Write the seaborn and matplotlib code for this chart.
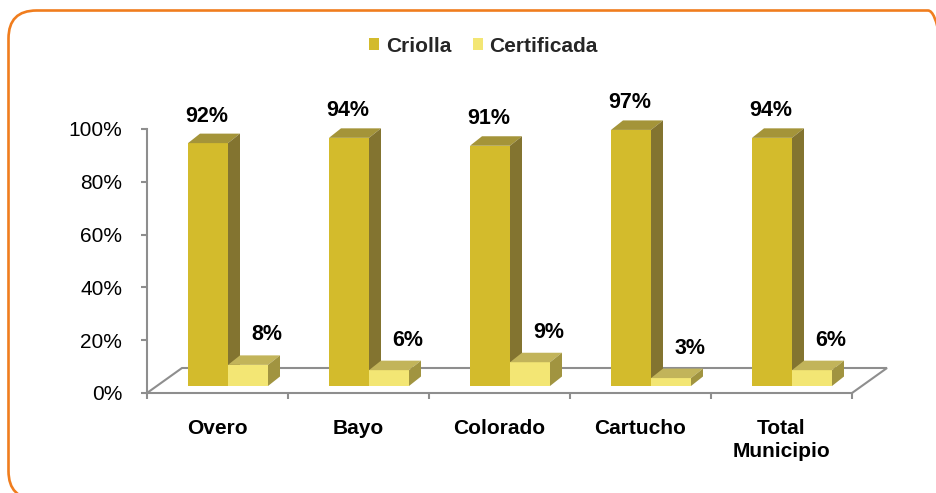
import matplotlib
matplotlib.use("Agg")
import matplotlib.pyplot as plt
from matplotlib.patches import Polygon, FancyBboxPatch
import numpy as np
import pandas as pd
import seaborn as sns

# ---------------- data ----------------
categories = ["Overo", "Bayo", "Colorado", "Cartucho", "Total\nMunicipio"]
series = ["Criolla", "Certificada"]
criolla = [92, 94, 91, 97, 94]
certificada = [8, 6, 9, 3, 6]
ytick_values = [0, 20, 40, 60, 80, 100]
ytick_labels = ["0%", "20%", "40%", "60%", "80%", "100%"]

# ---------------- style ----------------
sns.set_style("white")
plt.rcParams["font.family"] = ["Liberation Sans", "DejaVu Sans"]

front_colors = ["#D3BB2C", "#F3E674"]
top_colors = ["#A49439", "#C2B45A"]
side_colors = ["#837430", "#A19440"]
axis_gray = "#8E8E8E"
border_orange = "#F07D1E"

df = pd.DataFrame({
    "cat": categories * 2,
    "serie": [series[0]] * len(categories) + [series[1]] * len(categories),
    "val": criolla + certificada,
})

W, H = 936, 493
fig = plt.figure(figsize=(W / 100, H / 100), dpi=100)

# pixel geometry of the (pseudo 3D) plot area
PX_CAT = 141.0      # pixels per category
PX_PCT = 2.64       # pixels per percent
X0 = 228.0          # pixel x of first bar pair centre
Y0 = 386.0          # pixel y of bar base
L, R, T, B = 147, 905, 80, 415
ax = fig.add_axes([L / W, 1 - B / H, (R - L) / W, (B - T) / H])

sns.barplot(data=df, x="cat", y="val", hue="serie", order=categories,
            hue_order=series, palette=front_colors, saturation=1,
            width=80 / PX_CAT, linewidth=0, ax=ax)

ax.set_xlim((L - X0) / PX_CAT, (R - X0) / PX_CAT)
ax.set_ylim(-(B - Y0) / PX_PCT, (Y0 - T) / PX_PCT)

# depth offsets (data units)
bdx, bdy = 12 / PX_CAT, 9.5 / PX_PCT
floor_y = -(393 - Y0) / PX_PCT
fdx, fdy = 35 / PX_CAT, 25 / PX_PCT
fx0 = (147 - X0) / PX_CAT
fx1 = (852 - X0) / PX_CAT

# floor outline (behind bars)
ax.plot([fx0, fx0 + fdx, fx1 + fdx, fx1],
        [floor_y, floor_y + fdy, floor_y + fdy, floor_y],
        color=axis_gray, lw=1.5, zorder=0.5, solid_joinstyle="miter")

# 3D faces + labels
label_off = [(-1.5, 7), (19, 10)]
for s, cont in enumerate(ax.containers):
    for p in cont.patches:
        x0, w, h = p.get_x(), p.get_width(), p.get_height()
        zb = 1 + s
        p.set_zorder(zb)
        top = Polygon([(x0, h), (x0 + w, h), (x0 + w + bdx, h + bdy), (x0 + bdx, h + bdy)],
                      closed=True, facecolor=top_colors[s], edgecolor="none", zorder=zb + 0.2)
        side = Polygon([(x0 + w, 0), (x0 + w + bdx, bdy), (x0 + w + bdx, h + bdy), (x0 + w, h)],
                       closed=True, facecolor=side_colors[s], edgecolor="none", zorder=zb + 0.2)
        ax.add_patch(top)
        ax.add_patch(side)
        ax.annotate(f"{h:.0f}%", (x0 + w / 2, h + bdy), xytext=label_off[s],
                    textcoords="offset pixels", ha="center", va="bottom",
                    fontsize=15.5, fontweight="bold", color="black", zorder=5)

# axes / spines
for sp in ["top", "right"]:
    ax.spines[sp].set_visible(False)
ax.spines["left"].set_bounds(floor_y, floor_y + 100)
ax.spines["left"].set_color(axis_gray)
ax.spines["left"].set_linewidth(1.5)
ax.spines["bottom"].set_position(("data", floor_y))
ax.spines["bottom"].set_bounds(fx0, fx1)
ax.spines["bottom"].set_color(axis_gray)
ax.spines["bottom"].set_linewidth(1.5)

ax.set_yticks([floor_y + v for v in ytick_values], ytick_labels)
ax.tick_params(axis="y", left=True, length=4.3, width=1.5, color=axis_gray,
               pad=13.5, labelsize=15, labelcolor="black")

cat_centres = [i - (X0 - 217.5) / PX_CAT for i in range(len(categories))]
ax.set_xticks(cat_centres, categories)
ax.set_xticks([k + fx0 for k in range(len(categories) + 1)], minor=True)
ax.tick_params(axis="x", which="major", bottom=True, length=0, pad=19,
               labelsize=15, labelcolor="black")
ax.tick_params(axis="x", which="minor", bottom=True, length=4.3, width=1.5,
               color=axis_gray)
for t in ax.get_xticklabels():
    t.set_fontweight("bold")
    t.set_linespacing(1.22)
ax.set_xlabel("")
ax.set_ylabel("")
ax.patch.set_alpha(0)

# legend
handles, labels = ax.get_legend_handles_labels()
if ax.get_legend() is not None:
    ax.get_legend().remove()
fig.legend(handles, labels, loc="center", bbox_to_anchor=(483.5 / W, 1 - 46 / H),
           ncol=2, frameon=False, handlelength=0.5, handleheight=0.5,
           handletextpad=0.3, columnspacing=1.05,
           prop={"family": "Liberation Sans", "weight": "bold", "size": 15})

# rounded orange frame
frame = FancyBboxPatch((8.5 / 100, -6 / 100), (956 - 8.5) / 100, (482.5 + 6) / 100,
                       boxstyle="round,pad=0,rounding_size=0.28",
                       transform=fig.dpi_scale_trans, facecolor="none",
                       edgecolor=border_orange, linewidth=1.9, clip_on=False)
fig.add_artist(frame)

fig.savefig("out.png", dpi=100)
